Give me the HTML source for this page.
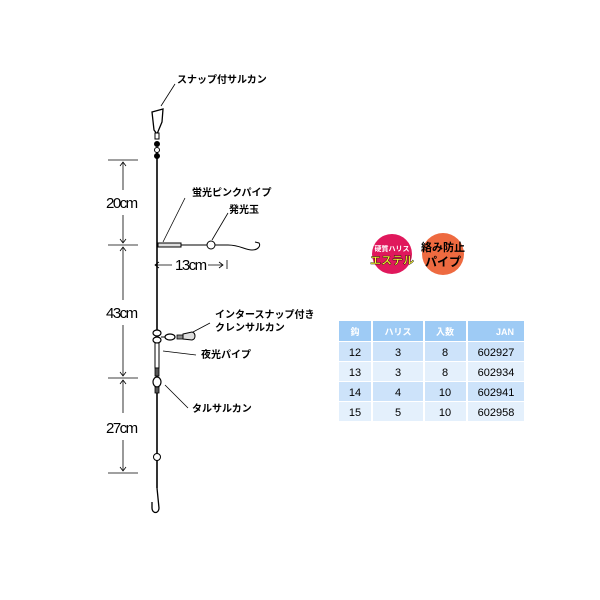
<!DOCTYPE html>
<html><head><meta charset="utf-8"><style>
html,body{margin:0;padding:0;background:#fff;width:600px;height:600px;overflow:hidden}
svg{display:block}
text{font-family:"Liberation Sans","Noto Sans CJK JP",sans-serif}
</style></head><body>
<svg width="600" height="600" viewBox="0 0 600 600" xmlns="http://www.w3.org/2000/svg">
<g stroke="#000" fill="none">
<line x1="157" y1="150" x2="157" y2="488" stroke-width="1.6"/>
<path d="M152,112 L163,109 L162,122 L157,134 L154,130 Z" stroke-width="1.3" fill="#fff"/>
<rect x="155" y="133" width="4" height="6" fill="#fff" stroke-width="1"/>
<circle cx="157" cy="144" r="2.5" fill="#000"/>
<circle cx="157" cy="150" r="2.5" fill="#fff" stroke-width="1"/>
<circle cx="157" cy="156" r="2.5" fill="#000"/>
<line x1="161" y1="106" x2="175" y2="84" stroke-width="0.8"/>
<g stroke-width="0.8">
<line x1="108" y1="160" x2="138" y2="160"/>
<line x1="108" y1="245" x2="138" y2="245"/>
<line x1="108" y1="378" x2="138" y2="378"/>
<line x1="108" y1="473" x2="138" y2="473"/>
<line x1="123" y1="162" x2="123" y2="190"/><line x1="123" y1="215" x2="123" y2="243"/>
<line x1="123" y1="247" x2="123" y2="300"/><line x1="123" y1="325" x2="123" y2="376"/>
<line x1="123" y1="380" x2="123" y2="413"/><line x1="123" y1="440" x2="123" y2="471"/>
<path d="M120,166 L123,162 L126,166 M120,239 L123,243 L126,239 M120,251 L123,247 L126,251 M120,372 L123,376 L126,372 M120,384 L123,380 L126,384 M120,467 L123,471 L126,467"/>
</g>
<rect x="158" y="243" width="23" height="4" fill="#ddd" stroke-width="1"/>
<line x1="181" y1="245" x2="207" y2="245" stroke-width="1"/>
<circle cx="211" cy="245" r="4" fill="#fff" stroke-width="1"/>
<path d="M215,245 L228,245 C240,245 245,250 252,250 C258,250 261,246 259,243 L255,242" stroke-width="1"/>
<line x1="163" y1="242" x2="185" y2="198" stroke-width="0.8"/>
<line x1="212" y1="240" x2="228" y2="213" stroke-width="0.8"/>
<path d="M155,265 L172,265 M159,262 L155,265 L159,268" stroke-width="0.8"/>
<path d="M208,265 L223,265 M219,262 L223,265 L219,268 M227,260 L227,269" stroke-width="0.8"/>
<ellipse cx="157" cy="333" rx="4" ry="3" fill="#fff" stroke-width="1.2"/>
<ellipse cx="157" cy="340" rx="4" ry="3" fill="#fff" stroke-width="1.2"/>
<line x1="161" y1="337" x2="165" y2="337" stroke-width="1"/>
<ellipse cx="170" cy="337" rx="5" ry="3" fill="#fff" stroke-width="1.2"/>
<rect x="177" y="335" width="6" height="4" fill="#888" stroke-width="0.8"/>
<path d="M183,334 L192,332 C196,333 196,339 192,340 L183,339 Z" fill="#ddd" stroke-width="1"/>
<line x1="193" y1="332" x2="210" y2="323" stroke-width="0.8"/>
<rect x="155" y="343" width="4" height="25" fill="#fff" stroke-width="1"/>
<line x1="163" y1="351" x2="196" y2="355" stroke-width="0.8"/>
<rect x="155" y="368" width="4" height="8" fill="#555" stroke-width="0.8"/>
<ellipse cx="157" cy="382" rx="4" ry="5" fill="#fff" stroke-width="1.2"/>
<rect x="155" y="387" width="4" height="6" fill="#555" stroke-width="0.8"/>
<line x1="165" y1="385" x2="188" y2="408" stroke-width="0.8"/>
<circle cx="157" cy="457" r="3.5" fill="#fff" stroke-width="1"/>
<path d="M157,488 L159,508 C159,514 152,514 152,508 L152,502" stroke-width="1.3"/>
</g>
<g font-size="10" font-weight="bold">
<text x="177" y="83">スナップ付サルカン</text>
<text x="192" y="196">蛍光ピンクパイプ</text>
<text x="229" y="213">発光玉</text>
<text x="215" y="318">インタースナップ付き</text>
<text x="215" y="331">クレンサルカン</text>
<text x="201" y="358">夜光パイプ</text>
<text x="192" y="412">タルサルカン</text>
</g>
<g font-size="15" letter-spacing="-1.5">
<text x="106" y="208">20cm</text>
<text x="106" y="318">43cm</text>
<text x="106" y="433">27cm</text>
<text x="175" y="270">13cm</text>
</g>
<circle cx="392" cy="254" r="20" fill="#e0185c"/>
<text x="392" y="251" font-size="7" font-weight="bold" fill="#fff" text-anchor="middle">硬質ハリス</text>
<text x="392" y="264" font-size="11" font-weight="bold" fill="#ffff33" text-anchor="middle" stroke="#000" stroke-width="0.4">エステル</text>
<circle cx="443" cy="254" r="21" fill="#ee6a40"/>
<text x="443" y="251" font-size="11" font-weight="bold" fill="#000" text-anchor="middle">絡み防止</text>
<text x="443" y="266" font-size="12" font-weight="bold" fill="#000" text-anchor="middle">パイプ</text>
<g fill="#9ecbf5">
<rect x="339" y="321" width="32" height="20"/><rect x="373" y="321" width="50" height="20"/><rect x="425" y="321" width="41" height="20"/><rect x="468" y="321" width="56" height="20"/>
</g>
<g fill="#cde3fa">
<rect x="339" y="342" width="32" height="19"/><rect x="373" y="342" width="50" height="19"/><rect x="425" y="342" width="41" height="19"/><rect x="468" y="342" width="56" height="19"/>
<rect x="339" y="382" width="32" height="19"/><rect x="373" y="382" width="50" height="19"/><rect x="425" y="382" width="41" height="19"/><rect x="468" y="382" width="56" height="19"/>
</g>
<g fill="#e4f0fc">
<rect x="339" y="362" width="32" height="19"/><rect x="373" y="362" width="50" height="19"/><rect x="425" y="362" width="41" height="19"/><rect x="468" y="362" width="56" height="19"/>
<rect x="339" y="402" width="32" height="19"/><rect x="373" y="402" width="50" height="19"/><rect x="425" y="402" width="41" height="19"/><rect x="468" y="402" width="56" height="19"/>
</g>
<g font-size="9" font-weight="bold" fill="#fff" text-anchor="middle">
<text x="355" y="335">鈎</text><text x="398" y="335">ハリス</text><text x="445" y="335">入数</text><text x="505" y="335">JAN</text>
</g>
<g font-size="11" fill="#000" text-anchor="middle">
<text x="355" y="356">12</text><text x="398" y="356">3</text><text x="445" y="356">8</text><text x="496" y="356">602927</text>
<text x="355" y="376">13</text><text x="398" y="376">3</text><text x="445" y="376">8</text><text x="496" y="376">602934</text>
<text x="355" y="396">14</text><text x="398" y="396">4</text><text x="445" y="396">10</text><text x="496" y="396">602941</text>
<text x="355" y="416">15</text><text x="398" y="416">5</text><text x="445" y="416">10</text><text x="496" y="416">602958</text>
</g>
</svg>
</body></html>
